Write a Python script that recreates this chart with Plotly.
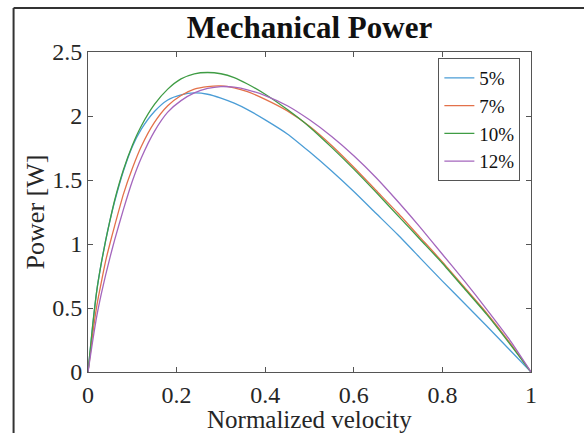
import plotly.graph_objects as go

# ---- data ----
velocity = [0, 0.01, 0.02, 0.03, 0.04, 0.05, 0.06, 0.08, 0.10, 0.12, 0.15, 0.18, 0.21,
            0.24, 0.27, 0.30, 0.33, 0.36, 0.40, 0.45, 0.50, 0.55, 0.60, 0.65, 0.70,
            0.75, 0.80, 0.85, 0.90, 0.95, 1.0]

power_5 = [0, 0.34, 0.64, 0.85, 1.03, 1.19, 1.33, 1.57, 1.76, 1.895, 2.035, 2.125, 2.165,
           2.18, 2.17, 2.14, 2.10, 2.05, 1.97, 1.86, 1.72, 1.57, 1.41, 1.24, 1.07,
           0.89, 0.71, 0.535, 0.36, 0.18, 0]
power_7 = [0, 0.28, 0.52, 0.70, 0.87, 1.01, 1.14, 1.39, 1.59, 1.76, 1.95, 2.08, 2.16,
           2.21, 2.23, 2.235, 2.22, 2.19, 2.13, 2.04, 1.92, 1.77, 1.60, 1.42, 1.24,
           1.05, 0.86, 0.66, 0.46, 0.24, 0]
power_10 = [0, 0.35, 0.64, 0.85, 1.03, 1.19, 1.34, 1.58, 1.77, 1.92, 2.09, 2.21, 2.29,
            2.33, 2.34, 2.33, 2.30, 2.25, 2.17, 2.05, 1.915, 1.755, 1.585, 1.405, 1.22,
            1.035, 0.85, 0.65, 0.45, 0.23, 0]
power_12 = [0, 0.23, 0.44, 0.61, 0.76, 0.90, 1.03, 1.27, 1.49, 1.67, 1.88, 2.03, 2.12,
            2.18, 2.215, 2.23, 2.225, 2.205, 2.16, 2.08, 1.97, 1.84, 1.69, 1.52, 1.33,
            1.13, 0.92, 0.71, 0.49, 0.26, 0]

series_names = ["5%", "7%", "10%", "12%"]
series_values = [power_5, power_7, power_10, power_12]
series_colors = ["#4b9dd6", "#e3714a", "#3f9c44", "#a466bd"]

x_tickvals = [0, 0.2, 0.4, 0.6, 0.8, 1.0]
x_ticktext = ["0", "0.2", "0.4", "0.6", "0.8", "1"]
y_tickvals = [0, 0.5, 1.0, 1.5, 2.0, 2.5]
y_ticktext = ["0", "0.5", "1", "1.5", "2", "2.5"]
x_title = "Normalized velocity"
y_title = "Power [W]"
chart_title = "Mechanical Power"

FONT = "Liberation Serif, Times New Roman, serif"

fig = go.Figure()
for name, vals, col in zip(series_names, series_values, series_colors):
    fig.add_trace(go.Scatter(x=velocity, y=vals, mode="lines", name=name,
                             line=dict(color=col, width=1.3, shape="spline",
                                       smoothing=0.6)))

axis_common = dict(
    showline=True, linecolor="#555555", linewidth=1, mirror="ticks",
    ticks="inside", ticklen=5, tickcolor="#555555", tickwidth=1,
    showgrid=False, zeroline=False, automargin=False,
    tickfont=dict(family=FONT, size=24, color="#262626"),
)

fig.update_layout(
    width=584, height=433,
    margin=dict(l=88, r=53, t=52, b=61),
    paper_bgcolor="white", plot_bgcolor="white",
    font=dict(family=FONT, color="#262626"),
    title=dict(text="<b>" + chart_title + "</b>", x=0.5, xref="paper", xanchor="center",
               y=1 - 27 / 433, yref="container", yanchor="middle",
               font=dict(family=FONT, size=31, color="#111111")),
    xaxis=dict(range=[0, 1], tickvals=x_tickvals, ticktext=x_ticktext,
               ticklabelstandoff=1, **axis_common),
    yaxis=dict(range=[0, 2.5], tickvals=y_tickvals, ticktext=y_ticktext,
               title=dict(text=y_title, standoff=0,
                          font=dict(family=FONT, size=26, color="#262626")),
               **axis_common),
    legend=dict(x=0.976, y=0.981, xanchor="right", yanchor="top",
                bgcolor="white", bordercolor="#555555", borderwidth=1,
                font=dict(family=FONT, size=19, color="#111111"),
                tracegroupgap=0, itemwidth=30),
    showlegend=True,
)

# x-axis title (placed as an annotation for exact spacing under the tick labels)
fig.add_annotation(text=x_title, xref="paper", yref="paper", x=0.5, y=-0.147,
                   xanchor="center", yanchor="middle", showarrow=False,
                   borderpad=0, font=dict(family=FONT, size=25, color="#262626"))

# outer frame of the original figure window (top and left edges)
fig.add_shape(type="line", xref="paper", yref="paper",
              x0=-0.168, x1=1.2, y0=1.1375, y1=1.1375,
              line=dict(color="#333333", width=2))
fig.add_shape(type="line", xref="paper", yref="paper",
              x0=-0.168, x1=-0.168, y0=1.1375, y1=-0.25,
              line=dict(color="#333333", width=2))

fig.write_html("out.html",
               config={"displayModeBar": False},
               post_script="document.body.style.margin='0px';"
                           "document.body.style.overflow='hidden';")
